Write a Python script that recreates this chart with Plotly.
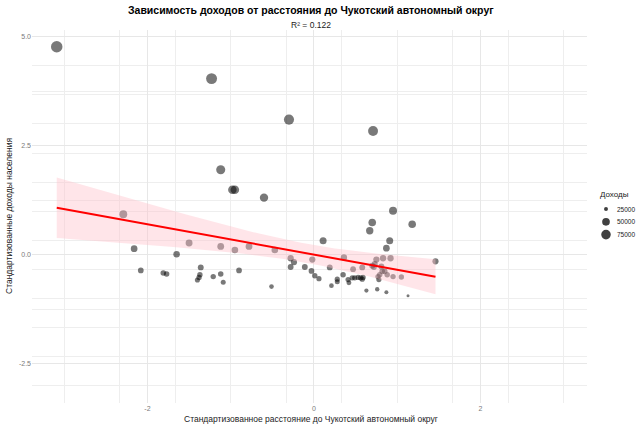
import numpy as np
import plotly.graph_objects as go

# Standardized distance to Chukotka (x) and standardized income (y), incomes (size)
dist_std = [-3.09, -1.23, -0.30, 0.71, -1.12, -0.98, -0.95, -0.60, 0.95, 1.18,
            0.70, 0.67, 0.91, 0.87, 0.11, 1.46,
            -2.29, -2.16, -2.08, -1.81, -1.77, -1.65, -1.50, -1.36, -1.37, -1.38,
            -1.40, -1.21, -1.12, -1.09, -1.12, -0.95, -0.90, -0.78, -0.51, -0.47,
            -0.28, -0.28, -0.24, -0.11, -0.02, -0.03, 0.01, 0.06, 0.19, 0.21,
            0.28, 0.28, 0.36, 0.35, 0.41, 0.42, 0.47, 0.46, 0.49, 0.53,
            0.56, 0.59, 0.58, 0.58, 0.63, 0.75, 0.73, 0.70, 0.72, 0.83,
            0.92, 0.81, 0.82, 0.85, 0.79, 0.78, 0.77, 0.88, 0.95, 1.05,
            0.76, 0.87, 1.13]
income_std = [4.77, 4.04, 3.10, 2.84, 1.95, 1.49, 1.49, 1.31, 1.01, 0.70,
              0.74, 0.55, 0.32, 0.15, 0.32, -0.15,
              0.93, 0.14, -0.36, -0.42, -0.44, 0.01, 0.27, -0.29, -0.46, -0.52,
              -0.58, -0.50, -0.44, -0.63, 0.19, 0.11, -0.36, 0.19, -0.73, 0.11,
              -0.08, -0.28, -0.17, -0.28, -0.11, -0.37, -0.48, -0.55, -0.29, -0.71,
              -0.56, -0.62, -0.06, -0.46, -0.57, -0.64, -0.33, -0.53, -0.53, -0.52,
              -0.53, -0.52, -0.56, -0.29, -0.82, -0.11, -0.21, -0.25, -0.28, -0.08,
              -0.08, -0.27, -0.38, -0.38, -0.46, -0.57, -0.50, -0.46, -0.50, -0.51,
              -0.79, -0.86, -0.94]
income = [109600, 98600, 84500, 80600, 67300, 60400, 60300, 57700, 53200, 48500,
          49100, 46300, 42800, 40300, 42800, 35800,
          52000, 40100, 32600, 31700, 31400, 38200, 42100, 33700, 31100, 30200,
          29300, 30500, 31400, 28600, 40900, 39700, 32600, 40900, 27100, 39700,
          36800, 33800, 35500, 33800, 36400, 32500, 30800, 29800, 33700, 27400,
          29600, 28700, 37100, 31100, 29500, 28400, 33100, 30100, 30100, 30200,
          30100, 30200, 29600, 33700, 25700, 36400, 34900, 34300, 33800, 36800,
          36800, 34000, 32300, 32300, 31100, 29500, 30500, 31100, 30500, 30400,
          26200, 25100, 23900]
legend_breaks = [25000, 50000, 75000]
x_ticks = [-2, 0, 2]
y_ticks = [-2.5, 0.0, 2.5, 5.0]
y_tick_labels = ["-2.5", "0.0", "2.5", "5.0"]

title_text = "Зависимость доходов от расстояния до Чукотский автономный округ"
subtitle_text = "R² = 0.122"
x_title = "Стандартизованное расстояние до Чукотский автономный округ"
y_title = "Стандартизованные доходы населения"
legend_title = "Доходы"

X = np.array(dist_std)
Y = np.array(income_std)
inc = np.array(income, dtype=float)

# size scale (area-based, like ggplot scale_size)
imin, imax = inc.min(), inc.max()
DMIN, DMAX = 3.0, 11.5
def size_of(v):
    return DMIN + (DMAX - DMIN) * np.sqrt(np.clip((np.asarray(v, float) - imin) / (imax - imin), 0, 1))
sizes = size_of(inc)

# linear fit with 95% CI
n = len(X)
b1, b0 = np.polyfit(X, Y, 1)
resid = Y - (b0 + b1 * X)
s = np.sqrt(np.sum(resid ** 2) / (n - 2))
xbar = X.mean()
sxx = np.sum((X - xbar) ** 2)
xg = np.linspace(X.min(), X.max(), 80)
yg = b0 + b1 * xg
se = s * np.sqrt(1 / n + (xg - xbar) ** 2 / sxx)
tq = 1.99
lo, hi = yg - tq * se, yg + tq * se

PT_COLOR = "rgba(0,0,0,0.75)"
FONT = "Liberation Sans, Arial"

fig = go.Figure()
fig.add_trace(go.Scatter(x=X, y=Y, mode="markers",
                         marker=dict(size=sizes, color=PT_COLOR, line=dict(width=0)),
                         showlegend=False, hoverinfo="skip"))
fig.add_trace(go.Scatter(x=np.concatenate([xg, xg[::-1]]), y=np.concatenate([hi, lo[::-1]]),
                         mode="lines", fill="toself", fillcolor="rgba(255,192,203,0.42)",
                         line=dict(width=0), showlegend=False, hoverinfo="skip"))
fig.add_trace(go.Scatter(x=xg, y=yg, mode="lines", line=dict(color="#ff0000", width=2),
                         showlegend=False, hoverinfo="skip"))

L, R, T, B = 32, 55, 30, 25
W, H = 642, 428
pw, ph = W - L - R, H - T - B

def px_x(p):
    return (p - L) / pw
def px_y(p):
    return (H - B - p) / ph

minor_grid_x = [-3, -7/3, -5/3, -1, -1/3, 1/3, 1, 5/3, 7/3, 3]
minor_grid_y = [-3, -7/3, -5/3, -1, -1/3, 1/3, 1, 5/3, 7/3, 3, 11/3, 13/3, -1.25, 1.25, 3.75]

fig.update_xaxes(range=[-3.387, 3.28], tickvals=x_ticks, ticktext=[str(t) for t in x_ticks],
                 showgrid=True, gridcolor="#e7e7e7", gridwidth=1, zeroline=False, showline=False,
                 ticks="", tickfont=dict(family=FONT, size=7, color="#7a7a7a"),
                 minor=dict(tickvals=minor_grid_x, showgrid=True, gridcolor="#eeeeee", gridwidth=1, ticks=""))
fig.update_yaxes(range=[-3.40, 5.155], tickvals=y_ticks, ticktext=y_tick_labels,
                 showgrid=True, gridcolor="#e7e7e7", gridwidth=1, zeroline=False, showline=False,
                 ticks="", tickfont=dict(family=FONT, size=7, color="#7a7a7a"),
                 minor=dict(tickvals=minor_grid_y, showgrid=True, gridcolor="#eeeeee", gridwidth=1, ticks=""))

ann = []
ann.append(dict(text="<b>" + title_text + "</b>", x=px_x(311), y=px_y(10), xref="paper", yref="paper",
                showarrow=False, xanchor="center", yanchor="middle",
                font=dict(family=FONT, size=10.5, color="#000")))
ann.append(dict(text=subtitle_text, x=px_x(311), y=px_y(25), xref="paper", yref="paper",
                showarrow=False, xanchor="center", yanchor="middle",
                font=dict(family=FONT, size=8.5, color="#222")))
ann.append(dict(text=x_title, x=px_x(311), y=px_y(419), xref="paper", yref="paper",
                showarrow=False, xanchor="center", yanchor="middle",
                font=dict(family=FONT, size=8.5, color="#222")))
ann.append(dict(text=y_title, x=px_x(9), y=px_y(216), xref="paper", yref="paper", textangle=-90,
                showarrow=False, xanchor="center", yanchor="middle",
                font=dict(family=FONT, size=8.5, color="#222")))
ann.append(dict(text=legend_title, x=px_x(598), y=px_y(195), xref="paper", yref="paper",
                showarrow=False, xanchor="left", yanchor="middle",
                font=dict(family=FONT, size=8, color="#222")))

shapes = []
for i, br in enumerate(legend_breaks):
    cy = 209 + i * 12.8
    d = float(size_of(br))
    shapes.append(dict(type="circle", xref="paper", yref="paper", xsizemode="pixel", ysizemode="pixel",
                       xanchor=px_x(606), yanchor=px_y(cy), x0=-d / 2, x1=d / 2, y0=-d / 2, y1=d / 2,
                       fillcolor=PT_COLOR, line=dict(width=0)))
    ann.append(dict(text=str(br), x=px_x(615), y=px_y(cy), xref="paper", yref="paper",
                    showarrow=False, xanchor="left", yanchor="middle",
                    font=dict(family=FONT, size=6.5, color="#222")))

fig.update_layout(width=W, height=H, margin=dict(l=L, r=R, t=T, b=B, autoexpand=False),
                  paper_bgcolor="white", plot_bgcolor="white", showlegend=False,
                  annotations=ann, shapes=shapes)

fig.write_html("out.html", config={"displayModeBar": False},
               post_script="document.body.style.margin='0px';document.body.style.overflow='hidden';")
